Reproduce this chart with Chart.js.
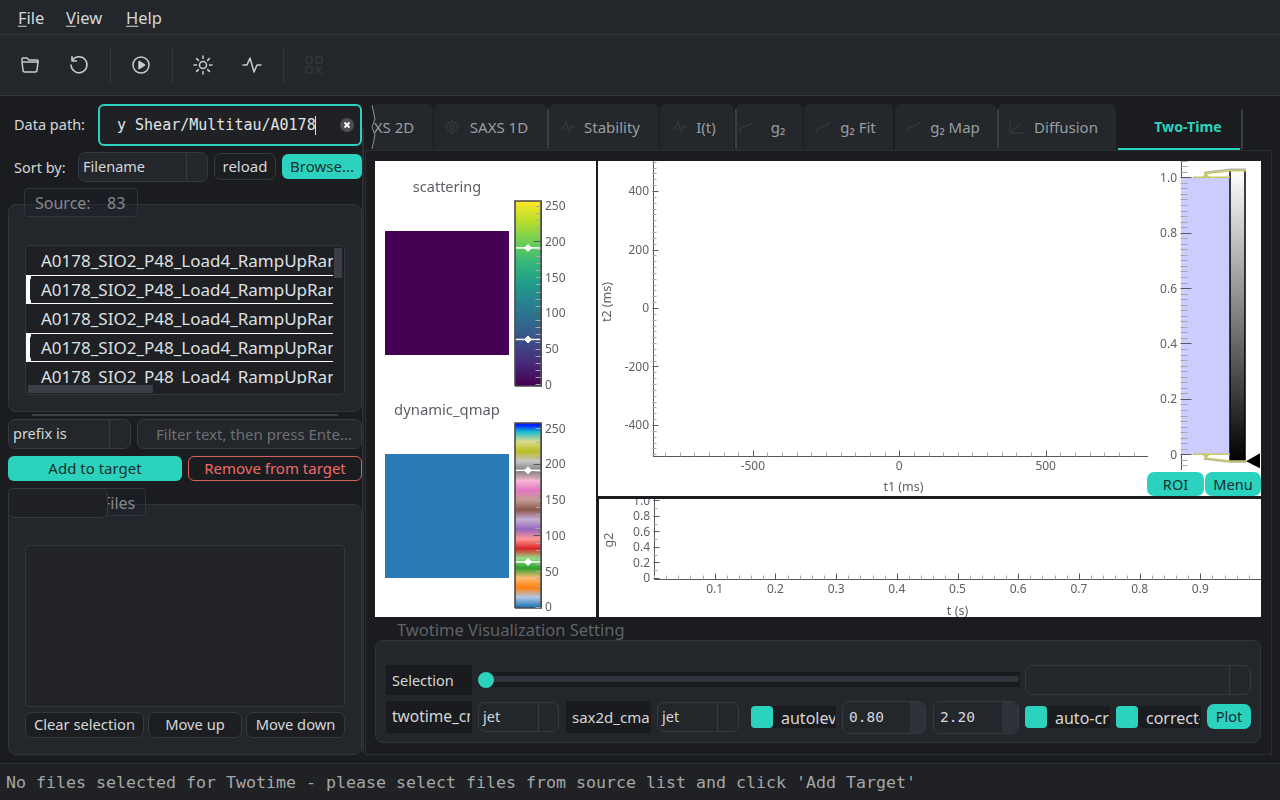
<!DOCTYPE html>
<html><head><meta charset="utf-8">
<script src="https://cdn.jsdelivr.net/npm/chart.js@4/dist/chart.umd.js"></script>
<style>
html,body{margin:0;padding:0;width:1280px;height:800px;overflow:hidden;background:#1a1c1f;font-family:"Noto Sans",sans-serif;color:#d5d7da}
.a{position:absolute;box-sizing:border-box;white-space:nowrap}
.t{position:absolute;white-space:nowrap;line-height:1;transform:translateY(-50%)}
.clip{overflow:hidden}
canvas{position:absolute;display:block}
.mono{font-family:"DejaVu Sans Mono",monospace}
.box{border:1px solid #363a40;border-radius:7px}
.teal{background:#2bd3bf;color:#16302d;border-radius:6px;text-align:center}
.lbl{background:#191b1e}
u{text-decoration-thickness:1px;text-underline-offset:2px}
svg{position:absolute;overflow:visible}
</style></head><body>
<script>
/* ---------- chart data ---------- */
const twotimeXTicks=[-500,0,500];
const twotimeYTicks=[-400,-200,0,200,400];
const g2XTicks=[0.1,0.2,0.3,0.4,0.5,0.6,0.7,0.8,0.9];
const g2YTicks=[0,0.2,0.4,0.6,0.8,1.0];
const histYTicks=[0,0.2,0.4,0.6,0.8,1.0];
const colorbarTicks=[0,50,100,150,200,250];
const colorbarMajor=[100,200];
const scatteringValue=[1];
const qmapValue=[1];
const levelMarkers=[63,191];
const viridisStops=["#440154","#482878","#3e4989","#31688e","#26828e","#1f9e89","#35b779","#6ece58","#b5de2b","#fde725"];
const qmapStops=["#1f77b4","#aec7e8","#ff7f0e","#ffbb78","#2ca02c","#98df8a","#d62728","#ff9896","#9467bd","#c5b0d5","#8c564b","#c49c94","#e377c2","#f7b6d2","#7f7f7f","#c7c7c7","#bcbd22","#dbdb8d","#17becf","#0022ff"];
const histLevels=[0,1];
const sourceFiles=["A0178_SIO2_P48_Load4_RampUpRamp","A0178_SIO2_P48_Load4_RampUpRamp","A0178_SIO2_P48_Load4_RampUpRamp","A0178_SIO2_P48_Load4_RampUpRamp","A0178_SIO2_P48_Load4_RampUpRamp"];
const tabNames=[["XS 2D",394],["SAXS 1D",499],["Stability",612],["I(t)",706],["g₂",778],["g₂ Fit",858],["g₂ Map",955],["Diffusion",1066]];

/* ---------- page chrome ---------- */
let H='';
const box=(x,y,w,h,css='',inner='',cls='')=>{H+=`<div class="a ${cls}" style="left:${x}px;top:${y}px;width:${w}px;height:${h}px;${css}">${inner}</div>`};
const txt=(x,y,s,css='',cls='')=>{H+=`<div class="t ${cls}" style="left:${x}px;top:${y}px;${css}">${s}</div>`};
const ctxt=(x,y,s,css='')=>txt(x,y,s,'transform:translate(-50%,-50%);'+css);
const combo=(x,y,w,h,sep,s)=>{box(x,y,w,h,'background:#23262b','', 'box');box(sep,y,1,h,'background:#363a40');if(s)txt(x+5,y+h/2-1,s,'font-size:14.5px;color:#d5d7da')};
const GROUP='background:#23262b;border:1px solid #32363c;border-radius:8px';

box(0,0,1280,35,'background:#23262b;border-bottom:1px solid #33373c');
box(0,35,1280,61,'background:#23262b;border-bottom:1px solid #33373c');
txt(18,18,'<u>F</u>ile','font-size:16.5px');txt(66,18,'<u>V</u>iew','font-size:16.5px');txt(126,18,'<u>H</u>elp','font-size:16.5px');
[110,172,283].forEach(x=>box(x,47,1,37,'background:#33373c'));
const icon=(x,p,c='#c8ccd0')=>{H+=`<svg style="left:${x-10}px;top:55px" width="20" height="20" viewBox="0 0 20 20" fill="none" stroke="${c}" stroke-width="1.5" stroke-linecap="round" stroke-linejoin="round">${p}</svg>`};
icon(30,'<path d="M2 6 V4 Q2 3 3 3 H7 L9 5 H17 Q18 5 18 6 V7"/><path d="M2 7 H18 L17 15 Q17 17 15 17 H5 Q3 17 3 15 Z"/>');
icon(79,'<path d="M3.5 5 A8 8 0 1 1 2 10"/><path d="M3 1.5 V6 H7.5"/>');
icon(141,'<circle cx="10" cy="10" r="8"/><path d="M8 6.5 L13.5 10 L8 13.5 Z" fill="#c8ccd0"/>');
icon(203,'<circle cx="10" cy="10" r="3.5"/><path d="M10 1V3.5M10 16.5V19M1 10H3.5M16.5 10H19M3.6 3.6L5.4 5.4M14.6 14.6L16.4 16.4M3.6 16.4L5.4 14.6M14.6 5.4L16.4 3.6"/>');
icon(252,'<path d="M1 10 H5 L8 3 L12 17 L15 10 H19"/>');
icon(314,'<rect x="2" y="2" width="6" height="6"/><rect x="12" y="2" width="6" height="6"/><rect x="2" y="12" width="6" height="6"/><path d="M12 12L18 18M18 12L12 18"/>','#34373c');

/* left column */
txt(14,124,'Data path:','font-size:14.5px');
box(98,104,264,42,'border:2px solid #2bd3bf;border-radius:6px;background:#1f2125');
txt(117,125,'y Shear/Multitau/A0178','font-size:15px;color:#e2e4e6','mono');
box(315,116,1,19,'background:#e2e4e6');
H+=`<svg style="left:340px;top:118px" width="14" height="14"><circle cx="7" cy="7" r="7" fill="#4c4e52"/><path d="M4.5 4.5L9.5 9.5M9.5 4.5L4.5 9.5" stroke="#fff" stroke-width="2"/></svg>`;
txt(14,166.5,'Sort by:','font-size:14.5px');
combo(78,152,130,30,186,'Filename');
box(214,153,62,27,'background:#1c1e21;text-align:center;line-height:25px;font-size:15px','reload','box');
box(282,154,80,25,'line-height:25px;font-size:15px','Browse...','teal');

box(8,204,354,208,GROUP);
box(24,188,114,29,'border:1px solid #32363c;border-radius:4px;background:rgba(30,32,36,.35)');
txt(35,203,'Source:','font-size:16px;color:#85888c');txt(107,203,'83','font-size:16px;color:#85888c');
box(25,245,320,150,'background:#1e2024;border:1px solid #33373c;border-radius:4px');
let rows='';
sourceFiles.forEach((f,i)=>{const sel=i%2==1;
 rows+=`<div class="a" style="left:0;top:${i*29}px;width:307px;height:29px;${sel?'border-top:1px solid #fff;border-bottom:1px solid #fff;':''}">${sel?'<div class="a" style="left:0;top:0;width:5px;height:100%;background:#fff"></div><div class="a" style="left:4px;top:0;width:10px;height:100%;background:#1e2024;border-radius:5px 0 0 5px"></div>':''}<span class="t" style="left:15px;top:${sel?13:14}px;font-size:17px;color:#dfe1e3">${f}</span></div>`});
box(26,246,307,138,'',rows,'clip');
box(334,248,8,30,'background:#3a3e47');
box(28,385,125,8,'background:#3a3e47');
box(32,414,306,2,'background:#3a3e44');
box(362,128,2,625,'background:#2a2d32');
combo(8,419,123,30,109,'prefix is');
box(137,419,225,30,'background:#23262b','','box');
txt(156,433.5,'Filter text, then press Ente…','font-size:15px;color:#6c7074');
box(8,456,174,25,'line-height:25px;font-size:15px','Add to target','teal');
box(188,456,174,25,'border:1px solid #d96060;border-radius:6px;color:#ef6a6a;text-align:center;line-height:23px;font-size:15px','Remove from target');
box(8,504,354,251,GROUP);
box(60,488,86,28,'border:1px solid #32363c;border-radius:4px;background:rgba(30,32,36,.35)');
txt(102,503,'Files','font-size:16px;color:#85888c');
box(8,488,100,30,'background:#1f2125;border:1px solid #363a40;border-radius:6px');
box(25,545,320,162,'background:#212327;border:1px solid #33373c;border-radius:4px');
[[25,119,'Clear selection'],[148,94,'Move up'],[246,99,'Move down']].forEach(b=>box(b[0],712,b[1],26,'background:#1c1e21;text-align:center;line-height:23px;font-size:14.7px;color:#d5d7da',b[2],'box'));

/* tabs */
[[373,60],[434,113],[549,110],[660,74],[736,67],[804,89],[895,102],[998,118]].forEach(t=>box(t[0],104,t[1],46,'background:#24272b;border-radius:6px 6px 0 0'));
box(365,150,907,605,'background:#1a1c1f;border:1px solid #2a2d32;');
[547,735,997,1241].forEach(x=>box(x,109,2,40,'background:#3a3e44'));
tabNames.forEach(t=>ctxt(t[1],126.5,t[0],'font-size:15px;color:#9a9ea2'));
ctxt(1188,126.5,'Two-Time','font-size:14.2px;font-weight:700;color:#2bd3bf');
box(1118,148,122,2,'background:#2bd3bf');
H+=`<svg style="left:368px;top:105px" width="8" height="44" fill="none" stroke="#8a8d90" stroke-width="1"><path d="M4 0 L7 14 L4 22 L7 30 L4 44"/></svg>`;
const tabIcon=(x,p)=>{H+=`<svg style="left:${x-9}px;top:118px" width="18" height="18" fill="none" stroke="#34373c" stroke-width="1.3">${p}</svg>`};
tabIcon(452,'<circle cx="9" cy="9" r="5"/><circle cx="9" cy="9" r="2"/><path d="M9 1V5M9 13V17M1 9H5M13 9H17"/>');
[[567,'<path d="M1 10H5L8 4L11 14L13 9H17"/>'],[679,'<path d="M1 10H5L8 4L11 14L13 9H17"/>'],[746,'<path d="M2 15C6 4 9 12 16 4"/>'],[823,'<path d="M2 15C6 4 9 12 16 4"/>'],[913,'<path d="M2 15C6 4 9 12 16 4"/>'],[1016,'<path d="M3 2V15H17M3 15L14 5"/>']].forEach(i=>tabIcon(i[0],i[1]));

/* plot panels */
box(375,161,221,456,'background:#fff');
box(598,161,663,335,'background:#fff');
box(599,499,662,118,'background:#fff');
box(1147,472,57,24,'line-height:24px;font-size:14.5px;border-radius:7px','ROI','teal');
box(1205,472,56,24,'line-height:24px;font-size:14.5px;border-radius:7px','Menu','teal');

/* settings */
txt(397,630,'Twotime Visualization Setting','font-size:16.5px;color:#5f6367');
box(375,640,886,103,GROUP);
box(386,665,86,30,'','','lbl');txt(392,679.5,'Selection','font-size:14.5px');
box(479,672,541,15,'','','lbl');box(479,676,540,6,'background:#30353d;border-radius:3px');
H+=`<svg style="left:478px;top:672px" width="16" height="16"><circle cx="8" cy="8" r="8" fill="#2bd3bf"/></svg>`;
combo(1025,665,226,30,1229,'');
box(386,701,86,32,'','','lbl');box(392,701,78,32,'','<span class="t" style="left:0;top:16px;font-size:15.5px">twotime_cmap</span>','clip');
combo(478,702,81,30,538,'jet');
box(566,701,85,32,'','','lbl');box(572,701,78,32,'','<span class="t" style="left:0;top:16px;font-size:15px">sax2d_cmap</span>','clip');
combo(657,702,82,30,717,'jet');
const check=(x,w,s)=>{box(x,706,22,22,'background:#2bd3bf;border-radius:4px');box(x+22,706,w,22,'','','lbl');box(x+30,706,w-9,22,'','<span class="t" style="left:0;top:12px;font-size:16px">'+s+'</span>','clip')};
check(751,63,'autolevel');check(1025,63,'auto-crop');check(1116,63,'correct-diag');
const spin=(x,w,bx,s)=>{box(x,701,w,33,'background:#23262b','','box');box(bx,702,w-(bx-x)-1,31,'background:#2e3239;border-radius:0 6px 6px 0');txt(x+7,717,s,'font-size:14.5px;color:#d5d7da','mono')};
spin(842,84,910,'0.80');spin(933,86,1002,'2.20');
box(1207,704,44,25,'line-height:25px;font-size:14.5px;border-radius:7px','Plot','teal');

/* status bar */
box(0,763,1280,37,'background:#1f2125;border-top:1px solid #2e3238');
txt(6,782.5,"No files selected for Twotime - please select files from source list and click 'Add Target'",'font-size:16.62px;color:#a4a7aa','mono');
document.body.insertAdjacentHTML('beforeend',H);

/* ---------- chart helpers ---------- */
const LABEL='#5d6166',AXIS='#55585c',MINOR='#a8a8a8';
const FONT={family:'"Noto Sans"',size:12};
Chart.defaults.font.family='"Noto Sans"';
Chart.defaults.animation=false;
Chart.defaults.devicePixelRatio=1;
function mkCanvas(x,y,w,h){const c=document.createElement('canvas');c.width=w;c.height=h;c.style.cssText=`left:${x}px;top:${y}px;width:${w}px;height:${h}px`;document.body.appendChild(c);return c}
/* inward tick marks and offset axis captions, all placed through the chart's scales */
const inward={id:'inward',
 beforeDraw(ch){Object.values(ch.scales).forEach(sc=>{if(sc.isHorizontal()||!sc.options.display)return;
   sc.getLabelItems(ch.chartArea).forEach(it=>{if(!it._shifted&&it.options&&it.options.translation){it.options.translation=[it.options.translation[0],it.options.translation[1]+1];it._shifted=true}})})},
 afterDatasetsDraw(ch,a,o){const g=ch.ctx;(o.axes||[]).forEach(s=>{const sc=ch.scales[s.id];
  const draw=(v,len,col)=>{const p=Math.round(sc.getPixelForValue(v))+.5;g.strokeStyle=col;g.lineWidth=1;g.beginPath();
    if(sc.isHorizontal()){const y=Math.round(sc.top)+.5;g.moveTo(p,y);g.lineTo(p,y-len)}
    else{const x=Math.round(s.rightAxis?sc.left:sc.right)-.5;const d=s.rightAxis?-len:len;g.moveTo(x,p);g.lineTo(x+d,p)}
    g.stroke()};
  const n=Math.round((s.max-s.min)/s.minor);
  for(let i=0;i<=n;i++){const v=+(s.min+i*s.minor).toFixed(6);if(!s.major.some(m=>Math.abs(m-v)<1e-6))draw(v,s.minorLen,MINOR)}
  s.major.forEach(v=>draw(v,s.majorLen,AXIS));
 });
 (o.captions||[]).forEach(c=>{const sc=ch.scales[c.id];g.save();g.fillStyle=LABEL;g.font='12.5px "Noto Sans"';g.textAlign='center';g.textBaseline='middle';
  if(sc.isHorizontal())g.fillText(c.text,(sc.left+sc.right)/2+c.along,sc.top+c.across);
  else{g.translate(c.across,(sc.top+sc.bottom)/2+c.along);g.rotate(-Math.PI/2);g.fillText(c.text,0,0)}
  g.restore()});
 }};
Chart.register(inward);
const axis=(cfg)=>Object.assign({type:'linear',min:cfg.min,max:cfg.max,
  border:{display:true,color:AXIS,width:1},grid:{display:false,drawTicks:false},
  afterBuildTicks:s=>{s.ticks=cfg.ticks.map(v=>({value:v}))},
  ticks:{autoSkip:false,maxRotation:0,color:LABEL,font:FONT,padding:cfg.pad??4,callback:cfg.fmt||(v=>String(v))},
  title:{display:false},
  afterFit:s=>{if(cfg.w!=null)s.width=cfg.w;if(cfg.h!=null)s.height=cfg.h;s.paddingTop=s.paddingBottom=s.paddingLeft=s.paddingRight=0}},cfg.extra||{});
const base=(pad,axes,captions)=>({responsive:false,maintainAspectRatio:false,layout:{padding:pad,autoPadding:false},plugins:{legend:{display:false},tooltip:{enabled:false},title:{display:false},inward:{axes,captions:captions||[]}}});

/* two-time map axes (empty plot) */
new Chart(mkCanvas(598,161,663,335),{type:'scatter',data:{datasets:[{label:'C2',data:[]}]},
 options:{...base({left:0,top:0,right:114,bottom:0},[
   {id:'x',min:-800,max:800,minor:50,major:twotimeXTicks,majorLen:6,minorLen:4},
   {id:'y',min:-500,max:500,minor:20,major:twotimeYTicks,majorLen:6,minorLen:4}],
   [{id:'x',text:'t1 (ms)',along:3.5,across:31},{id:'y',text:'t2 (ms)',along:-6.5,across:9}]),
 scales:{x:axis({min:-841,max:846,ticks:twotimeXTicks,h:40,pad:3}),
         y:axis({min:-506,max:502.6,ticks:twotimeYTicks,w:55,pad:4})}}});

/* histogram / level widget */
const hist=new Chart(mkCanvas(1147,161,114,309),{type:'scatter',data:{datasets:[]},
 options:{...base(0,[{id:'y',min:-0.06,max:1.06,minor:0.02,major:histYTicks,majorLen:11,minorLen:7}]),
 scales:{x:{type:'linear',min:0,max:80,display:false},
         y:axis({min:-0.0567,max:1.0588,ticks:histYTicks,w:34,pad:4,fmt:v=>v==0?'0':v.toFixed(1)})}}});
const pf=(pts,color,line)=>({data:pts,showLine:true,pointRadius:0,fill:color?'shape':false,backgroundColor:color,borderColor:line||'transparent',borderWidth:line?1.5:0,tension:0,clip:false});
const barGrad=hist.ctx.createLinearGradient(0,hist.scales.y.getPixelForValue(1.026),0,hist.scales.y.getPixelForValue(-0.025));
barGrad.addColorStop(0,'#ffffff');barGrad.addColorStop(1,'#000000');
/* Chart.js paints the first dataset last, so the list runs from top layer to bottom layer */
hist.data.datasets=[
 pf([{x:65,y:-0.025},{x:79,y:0.004},{x:79,y:-0.05}],'#000000'),
 pf([{x:23,y:-0.013},{x:49,y:-0.024},{x:65,y:-0.024}],null,'#c8c864'),
 pf([{x:23,y:-0.017},{x:49,y:-0.028},{x:65,y:-0.028}],null,'#b4b4a8'),
 pf([{x:23,y:1.013},{x:49,y:1.024},{x:65,y:1.024}],null,'#c8c864'),
 pf([{x:23,y:1.017},{x:49,y:1.029},{x:65,y:1.029}],null,'#b4b4a8'),
 pf([{x:21,y:1},{x:29,y:1},{x:25,y:1.015}],'#c8c864'),
 pf([{x:21,y:0},{x:29,y:0},{x:25,y:-0.015}],'#c8c864'),
 pf([{x:12,y:histLevels[1]},{x:49,y:histLevels[1]}],null,'#c8c864'),
 pf([{x:12,y:histLevels[0]},{x:49,y:histLevels[0]}],null,'#c8c864'),
 pf([{x:49,y:-0.025},{x:49,y:1.026}],null,'#000000'),
 pf([{x:64,y:-0.025},{x:64,y:1.026}],null,'#000000'),
 pf([{x:49,y:-0.025},{x:49,y:1.026},{x:64,y:1.026},{x:64,y:-0.025}],barGrad),
 pf([{x:0,y:histLevels[0]},{x:48.5,y:histLevels[0]},{x:48.5,y:histLevels[1]},{x:0,y:histLevels[1]}],'#ccccff')
];
hist.update();

/* g2 axes (empty plot) */
new Chart(mkCanvas(599,499,662,118),{type:'scatter',data:{datasets:[{label:'g2',data:[]}]},
 options:{...base(0,[
   {id:'x',min:0,max:1,minor:0.02,major:g2XTicks,majorLen:6,minorLen:4},
   {id:'y',min:0,max:1,minor:0.1,major:g2YTicks,majorLen:6,minorLen:4}],
   [{id:'x',text:'t (s)',along:0,across:32},{id:'y',text:'g2',along:1,across:10}]),
 scales:{x:axis({min:0,max:1,ticks:g2XTicks,h:38,pad:3,fmt:v=>v.toFixed(1)}),
         y:axis({min:-0.013,max:1.017,ticks:g2YTicks,w:55,pad:4,fmt:v=>v==0?'0':v.toFixed(1)})}}});

/* flat image panels */
function imagePanel(x,y,values,color,title,size){
 new Chart(mkCanvas(x,y,124,176),{type:'bar',data:{labels:['image'],datasets:[{label:title,data:values,backgroundColor:color,barPercentage:1,categoryPercentage:1}]},
  options:{...base(0,[]),plugins:{legend:{display:false},tooltip:{enabled:false},inward:{axes:[]},
    title:{display:true,text:title,color:LABEL,font:{family:'"Noto Sans"',size,weight:'normal'},padding:{top:0,bottom:52-size*1.2}}},
   scales:{x:{display:false},y:{display:false,min:0,max:1}}}});
}
imagePanel(385,179,scatteringValue,'#440154','scattering',14.5);
imagePanel(385,402,qmapValue,'#2a7ab6','dynamic_qmap',14.8);

/* colour bars */
function colorbar(x,y,stops,lo,hi,pos){
 const ch=new Chart(mkCanvas(x,y,72,197),{type:'scatter',data:{datasets:[]},
  options:{...base({left:1,top:1,right:0,bottom:11},[{id:'y',min:0,max:250,minor:10,major:colorbarMajor,majorLen:7,minorLen:5,rightAxis:true}]),
   scales:{x:{type:'linear',min:0,max:1,display:false},
           y:axis({min:lo,max:hi,ticks:colorbarTicks,w:45,pad:4,extra:{position:'right'}})}}});
 const ys=ch.scales.y;
 const grad=ch.ctx.createLinearGradient(0,ys.getPixelForValue(0),0,ys.getPixelForValue(256));
 stops.forEach((c,i)=>grad.addColorStop(pos(i)/256,c));
 ch.data.datasets=levelMarkers.map(v=>({data:[{x:0.5,y:v}],pointStyle:'rectRot',pointRadius:3.5,backgroundColor:'#fff',borderColor:'#fff'}))
  .concat(levelMarkers.map(v=>({data:[{x:0.03,y:v},{x:0.97,y:v}],showLine:true,borderColor:'#fff',borderWidth:1.5,pointRadius:0})))
  .concat([{data:[{x:0,y:lo},{x:1,y:lo},{x:1,y:hi},{x:0,y:hi},{x:0,y:lo}],showLine:true,fill:'shape',backgroundColor:grad,borderColor:'#4a4a4a',borderWidth:1.6,pointRadius:0,tension:0,clip:false}]);
 ch.update();
}
colorbar(514,200,viridisStops,-2.1,256.6,i=>i*256/9);
colorbar(514,422,qmapStops,-1.4,257.2,i=>i<19?i*13.6:254);
</script>
</body></html>
